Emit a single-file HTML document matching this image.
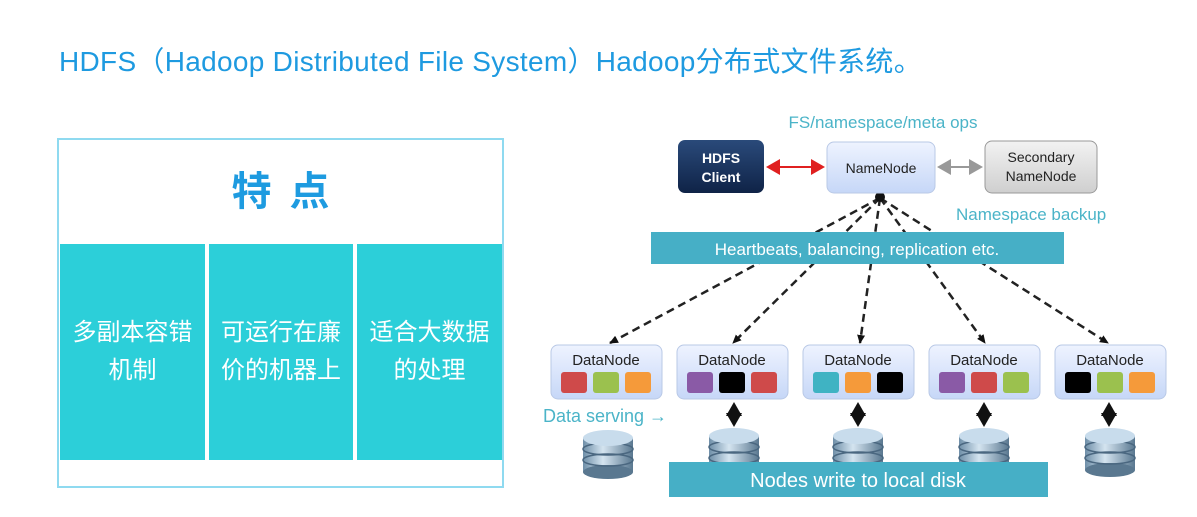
<!DOCTYPE html>
<html><head><meta charset="utf-8"><style>
body{margin:0;width:1197px;height:517px;background:#fff;overflow:hidden;position:relative;font-family:"Liberation Sans","Noto Sans CJK SC",sans-serif}
.t{position:absolute;left:59px;top:40px;font-size:28px;color:#1e9ae0;white-space:nowrap;letter-spacing:0.3px}
.box{position:absolute;left:57px;top:138px;width:443px;height:346px;border:2px solid #8fdaf0}
.hd{position:absolute;left:0;top:0;width:443px;height:104px;text-align:center;line-height:104px;font-size:40px;font-weight:bold;color:#1e9be0;letter-spacing:18px;text-indent:18px}
.c{position:absolute;top:104px;height:216px;background:#2ccfd9;color:#fff;font-size:24px;text-align:center;display:flex;align-items:center;justify-content:center;line-height:38px}
</style></head><body>
<div class="t">HDFS（Hadoop Distributed File System）Hadoop分布式文件系统。</div>
<div class="box">
<div class="hd">特点</div>
<div class="c" style="left:1px;width:145px">多副本容错<br>机制</div>
<div class="c" style="left:150px;width:144px">可运行在廉<br>价的机器上</div>
<div class="c" style="left:298px;width:145px">适合大数据<br>的处理</div>
</div>
<svg width="1197" height="517" style="position:absolute;left:0;top:0" font-family="Liberation Sans, sans-serif">
<defs>
<linearGradient id="nv" x1="0" y1="0" x2="0" y2="1"><stop offset="0" stop-color="#2a4a7a"/><stop offset="1" stop-color="#0f2347"/></linearGradient>
<linearGradient id="lb" x1="0" y1="0" x2="0" y2="1"><stop offset="0" stop-color="#eef3ff"/><stop offset="1" stop-color="#c6d7f7"/></linearGradient>
<linearGradient id="gr" x1="0" y1="0" x2="0" y2="1"><stop offset="0" stop-color="#f2f2f2"/><stop offset="1" stop-color="#cfcfcf"/></linearGradient>
<linearGradient id="dk" x1="0" y1="0" x2="1" y2="0"><stop offset="0" stop-color="#6f8fa8"/><stop offset=".4" stop-color="#d4e4f0"/><stop offset="1" stop-color="#5a7890"/></linearGradient>
<g id="disk">
<rect x="0" y="8" width="50" height="34" fill="url(#dk)"/>
<ellipse cx="25" cy="42" rx="25" ry="7" fill="#5a7890"/>
<ellipse cx="25" cy="30" rx="25" ry="6" fill="none" stroke="#4a6780" stroke-width="1.5"/>
<ellipse cx="25" cy="19" rx="25" ry="6" fill="none" stroke="#4a6780" stroke-width="1.5"/>
<ellipse cx="25" cy="8" rx="25" ry="8" fill="#c8dcec"/>
</g>
<marker id="ah" markerUnits="userSpaceOnUse" markerWidth="10" markerHeight="10" refX="8" refY="5" orient="auto"><path d="M0,1 L9,5 L0,9 z" fill="#111"/></marker>
<marker id="ar" markerWidth="8" markerHeight="8" refX="6" refY="4" orient="auto-start-reverse"><path d="M0,0 L7,4 L0,8 z" fill="#e02020"/></marker>
<marker id="ag" markerWidth="8" markerHeight="8" refX="6" refY="4" orient="auto-start-reverse"><path d="M0,0 L7,4 L0,8 z" fill="#999"/></marker>
<marker id="ak" markerWidth="8" markerHeight="8" refX="6" refY="4" orient="auto-start-reverse"><path d="M0,0 L7,4 L0,8 z" fill="#111"/></marker>
</defs>
<text x="883" y="128" text-anchor="middle" font-size="17" fill="#4bb4c8">FS/namespace/meta ops</text>
<text x="956" y="220" font-size="17" fill="#4bb4c8">Namespace backup</text>
<g stroke="#222" stroke-width="2.5" stroke-dasharray="8,5" fill="none" marker-end="url(#ah)">
<line x1="880" y1="198" x2="610" y2="343"/>
<line x1="880" y1="198" x2="733" y2="343"/>
<line x1="880" y1="198" x2="860" y2="343"/>
<line x1="880" y1="198" x2="985" y2="343"/>
<line x1="880" y1="198" x2="1108" y2="343"/>
</g>
<circle cx="880" cy="197" r="5" fill="#111"/>
<rect x="651" y="232" width="413" height="32" fill="#46afc6"/>
<text x="857" y="255" text-anchor="middle" font-size="17" fill="#fff">Heartbeats, balancing, replication etc.</text>
<rect x="678" y="140" width="86" height="53" rx="7" fill="url(#nv)"/>
<text x="721" y="163" text-anchor="middle" font-size="14" font-weight="bold" fill="#fff">HDFS</text>
<text x="721" y="182" text-anchor="middle" font-size="14" font-weight="bold" fill="#fff">Client</text>
<rect x="827" y="142" width="108" height="51" rx="7" fill="url(#lb)" stroke="#b9c9e6"/>
<text x="881" y="173" text-anchor="middle" font-size="14" fill="#222">NameNode</text>
<rect x="985" y="141" width="112" height="52" rx="7" fill="url(#gr)" stroke="#999"/>
<text x="1041" y="162" text-anchor="middle" font-size="14" fill="#222">Secondary</text>
<text x="1041" y="181" text-anchor="middle" font-size="14" fill="#222">NameNode</text>
<line x1="768" y1="167" x2="823" y2="167" stroke="#e02020" stroke-width="2" marker-start="url(#ar)" marker-end="url(#ar)"/>
<line x1="939" y1="167" x2="981" y2="167" stroke="#999" stroke-width="2" marker-start="url(#ag)" marker-end="url(#ag)"/>
<g font-size="15" fill="#222" text-anchor="middle">
<g transform="translate(551,345)"><rect width="111" height="54" rx="7" fill="url(#lb)" stroke="#b9c9e6"/><text x="55" y="20">DataNode</text>
<rect x="10" y="27" width="26" height="21" rx="3" fill="#cf4a4a"/><rect x="42" y="27" width="26" height="21" rx="3" fill="#9bc14e"/><rect x="74" y="27" width="26" height="21" rx="3" fill="#f59a3a"/></g>
<g transform="translate(677,345)"><rect width="111" height="54" rx="7" fill="url(#lb)" stroke="#b9c9e6"/><text x="55" y="20">DataNode</text>
<rect x="10" y="27" width="26" height="21" rx="3" fill="#8a5aa6"/><rect x="42" y="27" width="26" height="21" rx="3" fill="#000"/><rect x="74" y="27" width="26" height="21" rx="3" fill="#cf4a4a"/></g>
<g transform="translate(803,345)"><rect width="111" height="54" rx="7" fill="url(#lb)" stroke="#b9c9e6"/><text x="55" y="20">DataNode</text>
<rect x="10" y="27" width="26" height="21" rx="3" fill="#3fb3c3"/><rect x="42" y="27" width="26" height="21" rx="3" fill="#f59a3a"/><rect x="74" y="27" width="26" height="21" rx="3" fill="#000"/></g>
<g transform="translate(929,345)"><rect width="111" height="54" rx="7" fill="url(#lb)" stroke="#b9c9e6"/><text x="55" y="20">DataNode</text>
<rect x="10" y="27" width="26" height="21" rx="3" fill="#8a5aa6"/><rect x="42" y="27" width="26" height="21" rx="3" fill="#cf4a4a"/><rect x="74" y="27" width="26" height="21" rx="3" fill="#9bc14e"/></g>
<g transform="translate(1055,345)"><rect width="111" height="54" rx="7" fill="url(#lb)" stroke="#b9c9e6"/><text x="55" y="20">DataNode</text>
<rect x="10" y="27" width="26" height="21" rx="3" fill="#000"/><rect x="42" y="27" width="26" height="21" rx="3" fill="#9bc14e"/><rect x="74" y="27" width="26" height="21" rx="3" fill="#f59a3a"/></g>
</g>
<text x="543" y="422" font-size="18" fill="#4bb4c8">Data serving →</text>
<g stroke="#111" stroke-width="2" marker-start="url(#ak)" marker-end="url(#ak)">
<line x1="734" y1="404" x2="734" y2="425"/>
<line x1="858" y1="404" x2="858" y2="425"/>
<line x1="984" y1="404" x2="984" y2="425"/>
<line x1="1109" y1="404" x2="1109" y2="425"/>
</g>
<use href="#disk" x="583" y="430"/>
<use href="#disk" x="709" y="428"/>
<use href="#disk" x="833" y="428"/>
<use href="#disk" x="959" y="428"/>
<use href="#disk" x="1085" y="428"/>
<rect x="669" y="462" width="379" height="35" fill="#46afc6"/>
<text x="858" y="487" text-anchor="middle" font-size="20" fill="#fff">Nodes write to local disk</text>
</svg>
</body></html>
